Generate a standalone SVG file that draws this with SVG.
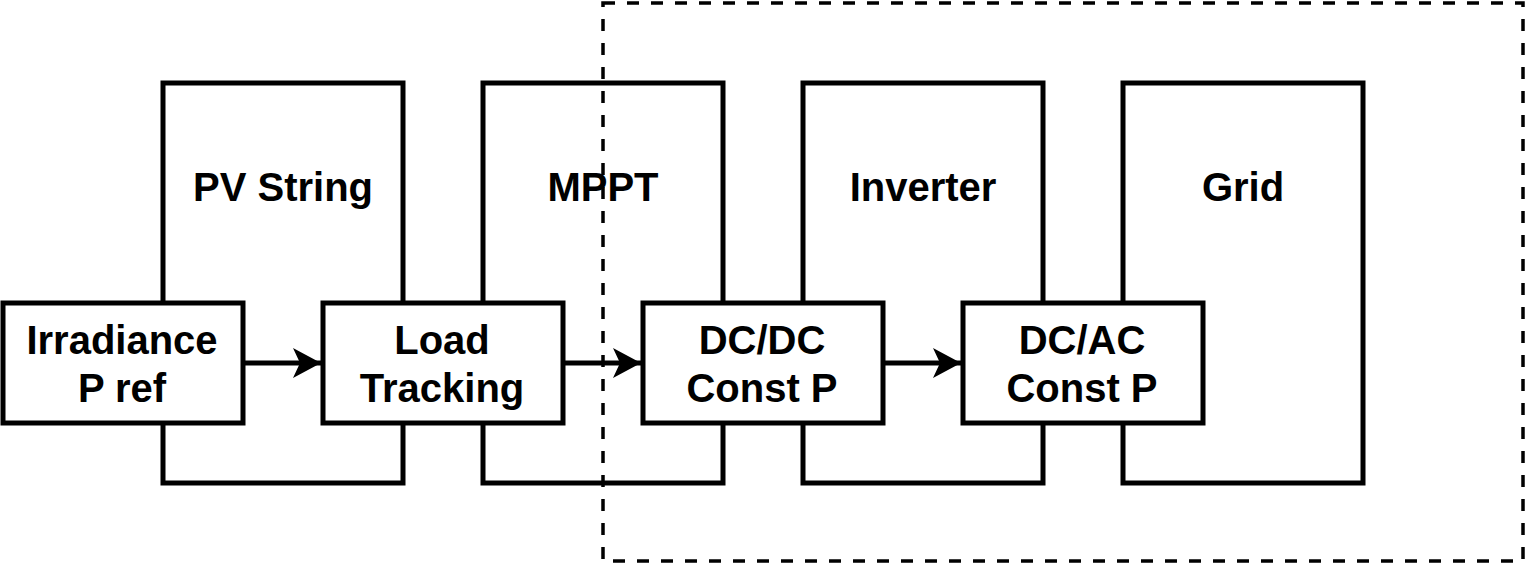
<svg xmlns="http://www.w3.org/2000/svg" width="1526" height="564" viewBox="0 0 1526 564">
<style>
.box{fill:#fff;stroke:#000;stroke-width:5}
.lbl{font-family:"Liberation Sans",Arial,sans-serif;font-weight:bold;font-size:40px;fill:#000;text-anchor:middle}
.edge{fill:none;stroke:#000;stroke-width:5}
.frame{fill:none;stroke:#000;stroke-width:3.5;stroke-dasharray:12 12}
</style>
<defs>
<marker id="arr" markerUnits="userSpaceOnUse" markerWidth="30" markerHeight="32" viewBox="0 0 30 32" refX="28" refY="16" orient="auto">
<path d="M28,16 L0,1 L7,16 L0,31 Z" fill="#000"/>
</marker>
</defs>
<g id="pv-string"><rect class="box" x="163" y="83" width="240" height="400"/><text class="lbl" x="283" y="201">PV String</text></g>
<g id="mppt"><rect class="box" x="483" y="83" width="240" height="400"/><text class="lbl" x="603" y="201">MPPT</text></g>
<g id="inverter"><rect class="box" x="803" y="83" width="240" height="400"/><text class="lbl" x="923" y="201">Inverter</text></g>
<g id="grid"><rect class="box" x="1123" y="83" width="240" height="400"/><text class="lbl" x="1243" y="201">Grid</text></g>
<g id="irradiance"><rect class="box" x="3" y="303" width="240" height="120"/><text class="lbl" x="122" y="354">Irradiance</text><text class="lbl" x="122" y="402">P ref</text></g>
<g id="load-tracking"><rect class="box" x="323" y="303" width="240" height="120"/><text class="lbl" x="442" y="354">Load</text><text class="lbl" x="442" y="402">Tracking</text></g>
<g id="dcdc"><rect class="box" x="643" y="303" width="240" height="120"/><text class="lbl" x="762" y="354">DC/DC</text><text class="lbl" x="762" y="402">Const P</text></g>
<g id="dcac"><rect class="box" x="963" y="303" width="240" height="120"/><text class="lbl" x="1082" y="354">DC/AC</text><text class="lbl" x="1082" y="402">Const P</text></g>
<g id="connectors">
<path class="edge" d="M245,363 H321" marker-end="url(#arr)"/>
<path class="edge" d="M565,363 H641" marker-end="url(#arr)"/>
<path class="edge" d="M885,363 H961" marker-end="url(#arr)"/>
</g>
<g id="boundary"><rect class="frame" x="603" y="3" width="920" height="558"/></g>
</svg>
